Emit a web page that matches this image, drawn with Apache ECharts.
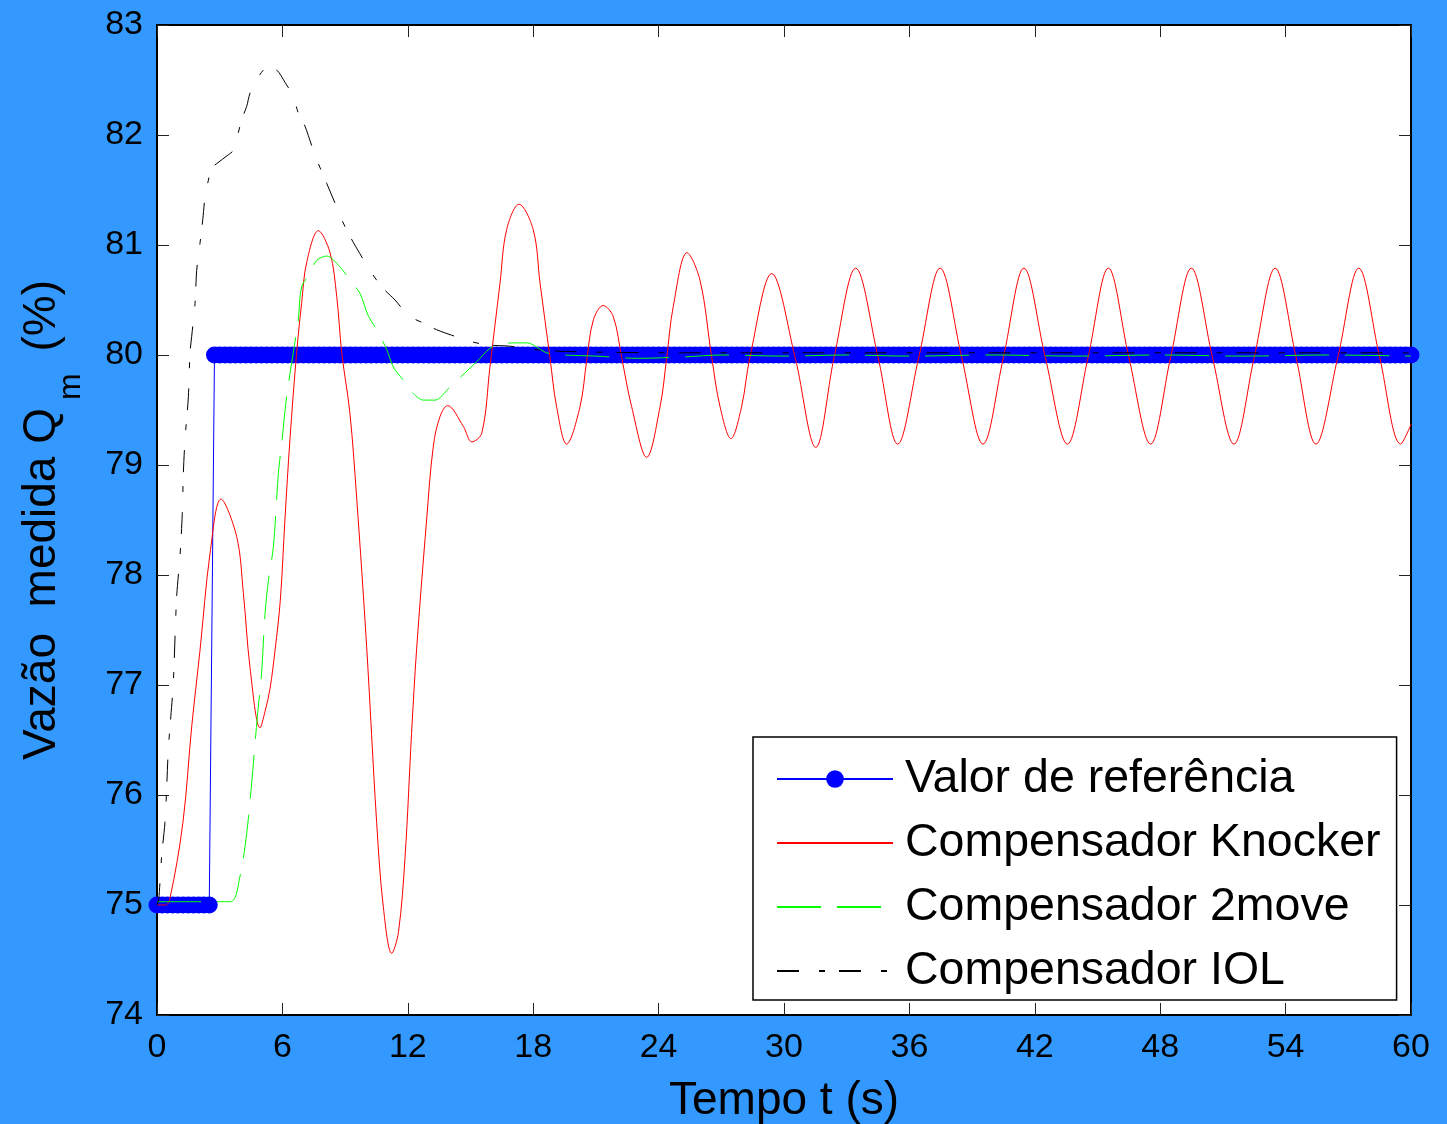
<!DOCTYPE html>
<html><head><meta charset="utf-8">
<script src="https://cdn.jsdelivr.net/npm/echarts@6/dist/echarts.min.js"></script>
<style>html,body{margin:0;padding:0;background:#3399FF;}#c{width:1447px;height:1124px;}</style>
</head><body><div id="c"></div>
<script>
// ---- Data ----
const seriesNames = ['Valor de referência', 'Compensador Knocker', 'Compensador 2move', 'Compensador IOL'];

const refT = [
0,0.25,0.5,0.75,1,1.25,1.5,1.75,2,2.25,2.5,2.75,3,3.25,3.5,3.75,4,4.25,4.5,4.75,
5,5.25,5.5,5.75,6,6.25,6.5,6.75,7,7.25,7.5,7.75,8,8.25,8.5,8.75,9,9.25,9.5,9.75,
10,10.25,10.5,10.75,11,11.25,11.5,11.75,12,12.25,12.5,12.75,13,13.25,13.5,13.75,14,14.25,14.5,14.75,
15,15.25,15.5,15.75,16,16.25,16.5,16.75,17,17.25,17.5,17.75,18,18.25,18.5,18.75,19,19.25,19.5,19.75,
20,20.25,20.5,20.75,21,21.25,21.5,21.75,22,22.25,22.5,22.75,23,23.25,23.5,23.75,24,24.25,24.5,24.75,
25,25.25,25.5,25.75,26,26.25,26.5,26.75,27,27.25,27.5,27.75,28,28.25,28.5,28.75,29,29.25,29.5,29.75,
30,30.25,30.5,30.75,31,31.25,31.5,31.75,32,32.25,32.5,32.75,33,33.25,33.5,33.75,34,34.25,34.5,34.75,
35,35.25,35.5,35.75,36,36.25,36.5,36.75,37,37.25,37.5,37.75,38,38.25,38.5,38.75,39,39.25,39.5,39.75,
40,40.25,40.5,40.75,41,41.25,41.5,41.75,42,42.25,42.5,42.75,43,43.25,43.5,43.75,44,44.25,44.5,44.75,
45,45.25,45.5,45.75,46,46.25,46.5,46.75,47,47.25,47.5,47.75,48,48.25,48.5,48.75,49,49.25,49.5,49.75,
50,50.25,50.5,50.75,51,51.25,51.5,51.75,52,52.25,52.5,52.75,53,53.25,53.5,53.75,54,54.25,54.5,54.75,
55,55.25,55.5,55.75,56,56.25,56.5,56.75,57,57.25,57.5,57.75,58,58.25,58.5,58.75,59,59.25,59.5,59.75,
60];
const refV = [
75,75,75,75,75,75,75,75,75,75,75,80,80,80,80,80,80,80,80,80,
80,80,80,80,80,80,80,80,80,80,80,80,80,80,80,80,80,80,80,80,
80,80,80,80,80,80,80,80,80,80,80,80,80,80,80,80,80,80,80,80,
80,80,80,80,80,80,80,80,80,80,80,80,80,80,80,80,80,80,80,80,
80,80,80,80,80,80,80,80,80,80,80,80,80,80,80,80,80,80,80,80,
80,80,80,80,80,80,80,80,80,80,80,80,80,80,80,80,80,80,80,80,
80,80,80,80,80,80,80,80,80,80,80,80,80,80,80,80,80,80,80,80,
80,80,80,80,80,80,80,80,80,80,80,80,80,80,80,80,80,80,80,80,
80,80,80,80,80,80,80,80,80,80,80,80,80,80,80,80,80,80,80,80,
80,80,80,80,80,80,80,80,80,80,80,80,80,80,80,80,80,80,80,80,
80,80,80,80,80,80,80,80,80,80,80,80,80,80,80,80,80,80,80,80,
80,80,80,80,80,80,80,80,80,80,80,80,80,80,80,80,80,80,80,80,
80];

const redT = [0,0.4,0.62,1.24,1.66,2.06,2.54,3.06,3.81,4.13,4.45,4.93,5.17,5.41,5.65,5.9,6.12,6.36,6.68,6.92,7.16,7.72,8.28,8.6,8.84,9.23,9.55,10.03,10.51,10.83,11.23,11.55,11.87,12.18,12.42,12.9,13.22,13.54,13.9,14.66,15.06,15.54,15.93,16.41,16.73,17.32,18.0,18.33,18.8,19.12,19.6,20.24,20.56,20.88,21.35,21.83,22.23,22.71,23.43,24.07,24.39,24.7,25.36,25.98,26.54,26.94,27.46,27.97,28.37,29.41,30.53,31.52,32.4,33.43,34.5,35.44,36.45,37.47,38.5,39.52,40.5,41.48,42.5,43.56,44.55,45.52,46.5,47.54,48.5,49.49,50.5,51.53,52.5,53.5,54.5,55.45,56.5,57.5,58.5,59.51,60];
const redV = [75.0,75.0,75.06,75.75,76.62,77.32,78.2,78.69,78.35,77.84,77.16,76.61,76.76,76.97,77.32,77.77,78.5,79.23,80.02,80.47,80.84,81.13,80.93,80.53,80.02,79.47,78.71,77.35,75.75,74.98,74.56,74.75,75.44,76.56,77.32,78.5,79.17,79.44,79.54,79.35,79.21,79.29,79.89,80.65,81.14,81.37,81.14,80.65,79.98,79.53,79.19,79.53,79.95,80.32,80.45,80.35,79.98,79.53,79.07,79.53,79.98,80.44,80.93,80.68,79.98,79.53,79.24,79.53,79.98,80.74,79.98,79.16,79.98,80.79,79.98,79.19,79.98,80.79,79.98,79.19,79.98,80.79,79.98,79.19,79.98,80.79,79.98,79.19,79.98,80.79,79.98,79.19,79.98,80.79,79.98,79.19,79.98,80.79,79.98,79.19,79.37];

const greenT = [0,3.5,3.97,4.29,4.53,4.8,5.0,5.17,5.33,5.57,5.81,5.97,6.2,6.52,6.76,6.92,7.32,7.64,8.12,8.76,9.23,9.71,10.1,10.51,10.99,11.31,11.79,12.27,12.74,13.3,14.02,15.3,15.93,16.5,17.05,17.7,18.65,19.5,21,23,25,27,30,33,36,40,44,48,52,56,60];
const greenV = [75.03,75.03,75.26,75.65,76.11,76.71,77.1,77.65,77.95,78.26,78.93,79.2,79.62,80.02,80.32,80.62,80.74,80.86,80.9,80.8,80.68,80.56,80.36,80.23,80.05,79.89,79.77,79.65,79.59,79.59,79.71,79.94,80.06,80.1,80.11,80.11,80.02,80.0,79.99,79.97,79.98,80.0,79.99,80.0,79.99,80.0,79.99,80.0,79.99,80.0,79.99];

const blackT = [0,0.08,0.14,0.22,0.38,0.46,0.54,0.66,0.78,0.94,1.1,1.21,1.26,1.34,1.5,1.58,1.66,1.82,1.9,2.06,2.19,2.3,2.46,2.62,2.86,3.41,3.65,3.89,4.05,4.29,4.45,4.77,5.09,5.33,5.73,6.12,6.52,6.76,7.08,7.48,7.72,8.12,8.52,8.84,9.23,9.71,10.19,10.75,11.39,12.03,12.74,13.38,14.1,15.06,15.93,16.89,18,20,25,30,35,40,45,50,55,60];
const blackV = [75.0,75.05,75.2,75.44,75.75,76.05,76.41,76.71,77.02,77.8,78.17,78.56,78.92,79.23,79.62,80.02,80.17,80.47,80.77,81.02,81.23,81.44,81.59,81.7,81.74,81.82,81.86,82.02,82.14,82.26,82.38,82.5,82.59,82.61,82.59,82.48,82.35,82.2,82.08,81.86,81.74,81.56,81.38,81.23,81.08,80.92,80.77,80.62,80.5,80.36,80.29,80.23,80.18,80.12,80.09,80.08,80.05,80.03,80.02,80.02,80.02,80.02,80.02,80.02,80.02,80.02];

const xMin = 0, xMax = 60, xStep = 6;
const yMin = 74, yMax = 83, yStep = 1;

// ---- Chart ----
const zip = (a, b) => a.map((t, i) => [t, b[i]]);
const FONT = '"Liberation Sans", Arial, sans-serif';
const chart = echarts.init(document.getElementById('c'), null, {renderer: 'canvas'});

const baseX = {
  type: 'value', min: xMin, max: xMax, interval: xStep,
  axisLine: {show: true, onZero: false, lineStyle: {color: '#000', width: 2}},
  axisTick: {show: true, inside: true, length: 12, lineStyle: {color: '#222', width: 1}},
  splitLine: {show: false}
};
const baseY = {
  type: 'value', min: yMin, max: yMax, interval: yStep,
  axisLine: {show: true, onZero: false, lineStyle: {color: '#000', width: 2}},
  axisTick: {show: true, inside: true, length: 12, lineStyle: {color: '#222', width: 1}},
  splitLine: {show: false}
};
const noSymbol = {color: 'rgba(0,0,0,0)', opacity: 0, borderWidth: 0};

chart.setOption({
  animation: false,
  backgroundColor: '#3399FF',
  grid: {left: 157, right: 36, top: 25, bottom: 109, show: true, backgroundColor: '#FFFFFF', borderWidth: 0,
         containLabel: false, outerBoundsMode: 'none'},
  xAxis: [
    Object.assign({}, baseX, {
      position: 'bottom',
      axisLabel: {show: true, color: '#000', fontSize: 34, fontFamily: FONT, margin: 16},
      name: 'Tempo t (s)', nameLocation: 'middle', nameGap: 63,
      nameTextStyle: {color: '#000', fontSize: 46, fontFamily: FONT}
    }),
    Object.assign({}, baseX, {position: 'top', axisLabel: {show: false}})
  ],
  yAxis: [
    Object.assign({}, baseY, {
      position: 'left',
      axisLabel: {show: true, color: '#000', fontSize: 34, fontFamily: FONT, margin: 14},
      name: '{n|Vazão  medida Q}{s|m}{n| (%)}', nameLocation: 'middle', nameGap: 88,
      nameTextStyle: {
        color: '#000', fontFamily: FONT,
        rich: {
          n: {fontSize: 46, lineHeight: 50, fontFamily: FONT, color: '#000', verticalAlign: 'top'},
          s: {fontSize: 32, lineHeight: 32, fontFamily: FONT, color: '#000', verticalAlign: 'top', padding: [36, 9, 0, 8]}
        }
      }
    }),
    Object.assign({}, baseY, {position: 'right', axisLabel: {show: false}})
  ],
  legend: {
    orient: 'vertical', left: 753, top: 737,
    backgroundColor: '#FFFFFF', borderColor: '#000', borderWidth: 1.5, borderRadius: 0,
    padding: [17, 16, 4, 23],
    itemWidth: 116, itemHeight: 22, itemGap: 14,
    textStyle: {color: '#000', fontSize: 46.5, lineHeight: 50, fontFamily: FONT, padding: [0, 0, 0, 7]},
    data: [
      {name: seriesNames[0]},
      {name: seriesNames[1], itemStyle: noSymbol},
      {name: seriesNames[2], itemStyle: noSymbol},
      {name: seriesNames[3], itemStyle: noSymbol}
    ]
  },
  series: [
    {
      name: seriesNames[0], type: 'line', xAxisIndex: 0, yAxisIndex: 0,
      data: zip(refT, refV),
      symbol: 'circle', symbolSize: 17, showSymbol: true, showAllSymbol: true,
      itemStyle: {color: '#0000FF'},
      lineStyle: {color: '#0000FF', width: 1},
      z: 1
    },
    {
      name: seriesNames[1], type: 'line', data: zip(redT, redV),
      symbol: 'none', smooth: 0.35,
      itemStyle: {color: '#FF0000'},
      lineStyle: {color: '#FF0000', width: 1},
      z: 2
    },
    {
      name: seriesNames[2], type: 'line', data: zip(greenT, greenV),
      symbol: 'none', smooth: 0.3,
      itemStyle: {color: '#00FF00'},
      lineStyle: {color: '#00FF00', width: 1, type: [44, 16]},
      z: 3
    },
    {
      name: seriesNames[3], type: 'line', data: zip(blackT, blackV),
      symbol: 'none', smooth: 0.3,
      itemStyle: {color: '#000000'},
      lineStyle: {color: '#000000', width: 1, type: [22, 20, 6, 14]},
      z: 4
    }
  ]
});
</script>
</body></html>
